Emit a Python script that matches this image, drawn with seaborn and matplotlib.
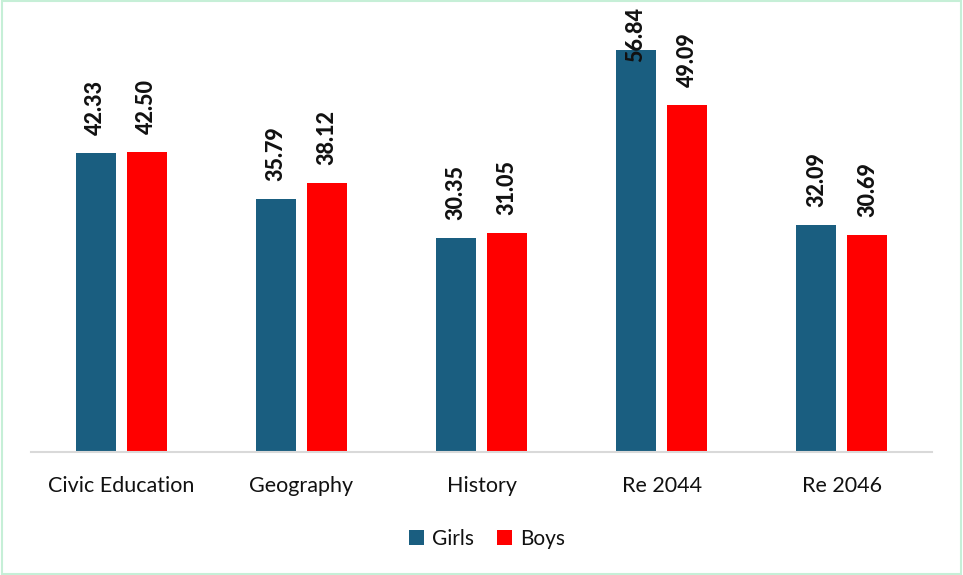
import matplotlib
matplotlib.use("Agg")
import matplotlib.pyplot as plt
import seaborn as sns
import pandas as pd
from matplotlib.patches import Rectangle

# Mean scores by subject and gender
subjects = ["Civic Education", "Geography", "History", "Re 2044", "Re 2046"]
girls = [42.33, 35.79, 30.35, 56.84, 32.09]
boys = [42.50, 38.12, 31.05, 49.09, 30.69]
groups = ["Girls", "Boys"]
colors = {"Girls": "#1a5e80", "Boys": "#ff0000"}

df = pd.DataFrame({
    "Subject": subjects * 2,
    "Score": girls + boys,
    "Gender": ["Girls"] * len(subjects) + ["Boys"] * len(subjects),
})

sns.set_theme(style="white")
plt.rcParams["font.family"] = ["Lato", "DejaVu Sans"]

W, H = 963, 575
fig = plt.figure(figsize=(W / 100, H / 100), dpi=100)
ax = fig.add_axes([31 / W, 1 - 452 / H, 901 / W, 424 / H])

sns.barplot(data=df, x="Subject", y="Score", hue="Gender", order=subjects,
            hue_order=groups, palette=colors, width=0.567, gap=0.215,
            linewidth=0, saturation=1, ax=ax)

ax.set_ylim(0, 60)
ax.set_xlim(-0.5, 4.5)

# Value labels: rotated, above each bar; pulled down into the bar when
# the label would run past the top of the chart.
label_size = 15.5
label_len_px = 56
top_px = 6
for cont in ax.containers:
    for bar in cont:
        val = bar.get_height()
        x = bar.get_x() + bar.get_width() / 2
        bar_top_px = H - ax.transData.transform((x, val))[1]
        pad_px = 18
        if bar_top_px - pad_px - label_len_px < top_px:
            pad_px = bar_top_px - top_px - label_len_px
        ax.annotate(f"{val:.2f}", (x, val), xytext=(0, pad_px * 0.72),
                    textcoords="offset points", rotation=90, ha="center",
                    va="bottom", fontsize=label_size, fontweight="black",
                    color="#111111", annotation_clip=False)

ax.set_xlabel("")
ax.set_ylabel("")
ax.set_yticks([])
for side in ("top", "right", "left"):
    ax.spines[side].set_visible(False)
ax.spines["bottom"].set_color("#d9d9d9")
ax.spines["bottom"].set_linewidth(1.5)
ax.tick_params(axis="x", length=0, pad=17, labelsize=15.5, labelcolor="#111111")

handles, labs = ax.get_legend_handles_labels()
ax.legend_.remove()
fig.legend(handles, labs, loc="center", bbox_to_anchor=(487 / W, 1 - 539 / H),
           ncol=2, frameon=False, fontsize=15, handlelength=0.7, handleheight=0.7,
           handletextpad=0.4, columnspacing=1.1, labelcolor="#111111")

# Light green figure border
fig.patches.append(Rectangle((0.002, 0.002), 0.996, 0.996, transform=fig.transFigure,
                             fill=False, edgecolor="#c6efd7", linewidth=1.5))

fig.savefig("out.png", dpi=100)
